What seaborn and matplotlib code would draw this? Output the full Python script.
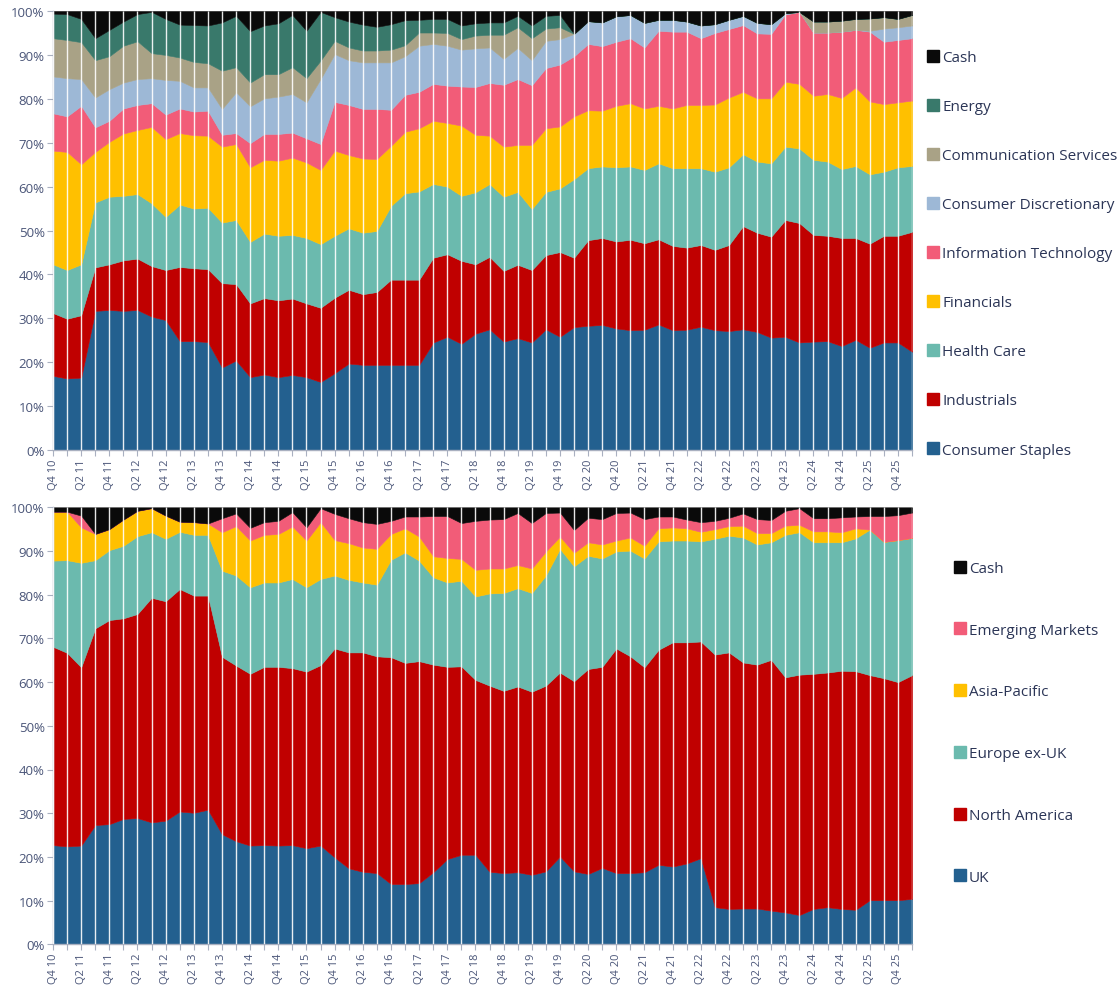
import numpy as np
import matplotlib
matplotlib.use("Agg")
import matplotlib.pyplot as plt
from matplotlib.lines import Line2D
import seaborn as sns

# ---------------- data ----------------
quarters = []
_q, _y = 4, 10
for _ in range(62):
    quarters.append(f"Q{_q} {_y:02d}")
    _q += 1
    if _q > 4:
        _q, _y = 1, _y + 1

# Sector allocation (%), Q4 10 .. Q1 26
consumer_staples = [16.9, 16.3, 16.5, 31.7, 31.9, 31.7, 31.9, 30.4, 29.6, 24.8, 24.8, 24.6, 18.8, 20.4, 16.6, 17.2,
                    16.6, 17.1, 16.6, 15.5, 17.5, 19.7, 19.4, 19.4, 19.4, 19.4, 19.4, 24.5, 25.8, 24.2, 26.5, 27.5,
                    24.7, 25.5, 24.5, 27.5, 25.8, 28.0, 28.3, 28.5, 27.7, 27.3, 27.4, 28.6, 27.3, 27.4, 28.1, 27.3,
                    27.1, 27.5, 26.9, 25.6, 25.8, 24.5, 24.7, 24.8, 23.7, 25.1, 23.3, 24.5, 24.5, 22.4]
industrials = [14.3, 13.6, 14.2, 9.9, 10.4, 11.5, 11.7, 11.5, 11.4, 16.9, 16.6, 16.6, 19.2, 17.4, 16.8, 17.4,
               17.5, 17.4, 16.8, 16.9, 17.2, 16.8, 16.1, 16.6, 19.4, 19.4, 19.4, 19.3, 18.8, 18.9, 15.8, 16.5,
               16.1, 16.7, 16.5, 16.9, 19.3, 15.8, 19.5, 19.8, 19.8, 20.6, 19.7, 19.4, 19.2, 18.7, 18.6, 18.3,
               19.6, 23.5, 22.6, 23.0, 26.6, 27.2, 24.3, 24.0, 24.6, 23.2, 23.7, 24.3, 24.3, 27.3]
health_care = [11.1, 11.1, 11.6, 14.8, 15.4, 14.7, 14.7, 14.3, 12.1, 14.2, 13.6, 14.0, 13.8, 14.6, 14.0, 14.7,
               14.7, 14.5, 14.9, 14.5, 14.1, 14.0, 14.0, 13.9, 16.8, 19.7, 20.1, 16.8, 15.4, 14.8, 16.4, 16.6,
               16.9, 16.6, 13.9, 14.4, 14.5, 17.9, 16.4, 16.3, 16.9, 16.7, 16.7, 17.3, 17.7, 18.1, 17.5, 17.8,
               17.7, 16.4, 16.2, 16.7, 16.7, 17.0, 17.1, 16.9, 15.7, 16.4, 15.8, 14.6, 15.6, 15.0]
financials = [25.9, 26.9, 22.8, 11.5, 12.5, 14.2, 14.6, 17.4, 17.7, 16.3, 16.7, 16.4, 17.3, 17.3, 17.0, 16.8,
              17.1, 17.6, 17.2, 16.9, 19.4, 16.7, 16.9, 16.4, 13.7, 14.0, 14.4, 14.4, 14.5, 16.0, 13.1, 11.0,
              11.4, 10.7, 14.6, 14.5, 14.1, 14.3, 13.2, 12.7, 14.0, 14.4, 14.0, 13.1, 13.6, 14.4, 14.4, 15.3,
              15.9, 14.2, 14.4, 14.8, 14.8, 14.7, 14.6, 15.4, 16.2, 17.9, 16.6, 15.4, 14.8, 14.9]
info_tech = [8.5, 8.1, 13.3, 5.6, 4.8, 5.7, 5.7, 5.4, 5.6, 5.6, 5.4, 5.7, 2.7, 2.5, 5.5, 5.9,
             6.1, 5.7, 5.5, 5.9, 11.1, 11.4, 11.3, 11.4, 8.2, 8.4, 8.3, 8.4, 8.5, 8.9, 10.9, 12.0,
             14.1, 15.0, 13.6, 13.7, 14.1, 13.7, 15.1, 14.7, 14.6, 14.8, 13.9, 17.1, 17.5, 16.7, 15.2, 16.3,
             15.6, 15.2, 14.8, 14.7, 15.3, 16.4, 14.4, 14.0, 15.1, 13.1, 15.9, 14.2, 14.2, 14.2]
consumer_disc = [8.4, 8.7, 6.1, 6.8, 7.2, 5.9, 5.9, 5.7, 7.9, 6.3, 5.5, 5.3, 5.9, 9.3, 8.4, 8.1,
                 8.5, 8.8, 8.2, 14.8, 10.9, 10.2, 10.6, 10.6, 10.8, 8.8, 10.5, 9.1, 9.1, 8.4, 8.8, 8.1,
                 5.9, 7.1, 5.7, 6.2, 5.8, 5.1, 5.2, 5.4, 5.8, 5.3, 5.6, 2.5, 2.7, 2.3, 2.9, 2.0,
                 2.1, 2.1, 2.4, 2.2, 0.3, 0.0, 0.0, 0.0, 0.0, 0.0, 0.2, 3.0, 2.9, 2.9]
comm_services = [8.7, 8.7, 8.4, 8.5, 7.5, 8.4, 8.6, 5.7, 5.7, 5.3, 5.8, 5.5, 8.7, 5.7, 5.4, 5.5,
                 5.1, 6.1, 5.5, 4.2, 3.0, 2.9, 2.7, 2.7, 2.9, 2.5, 3.0, 2.6, 2.9, 2.4, 2.9, 2.9,
                 5.5, 4.7, 5.0, 2.8, 2.7, 0.0, 0.0, 0.0, 0.0, 0.0, 0.0, 0.0, 0.0, 0.0, 0.0, 0.0,
                 0.0, 0.0, 0.0, 0.0, 0.0, 0.0, 2.5, 2.5, 2.5, 2.5, 2.8, 2.6, 1.9, 2.4]
energy = [5.6, 5.9, 5.3, 5.0, 6.0, 5.5, 6.2, 9.4, 8.2, 7.5, 8.4, 8.6, 11.0, 11.7, 11.7, 11.1,
          11.6, 11.9, 10.8, 11.1, 5.4, 5.9, 5.9, 5.4, 5.8, 5.7, 2.9, 3.1, 3.2, 3.1, 2.8, 2.8,
          2.8, 2.6, 2.9, 2.9, 2.8, 0.0, 0.0, 0.0, 0.0, 0.0, 0.0, 0.0, 0.0, 0.0, 0.0, 0.0,
          0.0, 0.0, 0.0, 0.0, 0.0, 0.0, 0.0, 0.0, 0.0, 0.0, 0.0, 0.0, 0.0, 0.0]
cash_sector = [0.6, 0.7, 1.8, 6.2, 4.3, 2.4, 0.7, 0.2, 1.8, 3.1, 3.2, 3.3, 2.6, 1.1, 4.6, 3.3,
               2.8, 0.9, 4.5, 0.2, 1.4, 2.4, 3.1, 3.6, 3.0, 2.1, 2.0, 1.8, 1.8, 3.3, 2.8, 2.6,
               2.6, 1.1, 3.3, 1.1, 0.9, 5.2, 2.3, 2.6, 1.2, 0.9, 2.7, 2.0, 2.0, 2.4, 3.3, 3.0,
               2.0, 1.1, 2.7, 3.0, 0.5, 0.2, 2.4, 2.4, 2.2, 1.8, 1.7, 1.4, 1.8, 0.9]

# Regional allocation (%)
uk = [22.7, 22.4, 22.6, 27.3, 27.5, 28.7, 28.9, 27.9, 28.3, 30.4, 30.1, 30.8, 25.2, 23.6, 22.6, 22.7,
      22.6, 22.7, 22.0, 22.6, 19.9, 17.4, 16.6, 16.3, 13.8, 13.8, 14.0, 16.5, 19.5, 20.5, 20.5, 16.6,
      16.3, 16.5, 15.9, 16.7, 20.1, 16.7, 16.1, 17.5, 16.3, 16.3, 16.5, 18.2, 17.8, 18.5, 19.7, 8.5,
      8.1, 8.2, 8.2, 7.7, 7.3, 6.7, 8.1, 8.5, 8.1, 7.9, 10.1, 10.1, 10.1, 10.4]
north_america = [45.4, 44.3, 40.8, 45.0, 46.7, 45.9, 46.7, 51.4, 50.2, 50.9, 49.7, 49.0, 40.6, 40.2, 39.3, 40.8,
                 40.9, 40.5, 40.4, 41.3, 47.8, 49.4, 50.2, 49.6, 51.9, 50.6, 50.8, 47.5, 44.0, 43.1, 40.0, 42.6,
                 41.7, 42.5, 41.9, 42.5, 42.1, 43.5, 46.9, 46.0, 51.4, 49.6, 46.9, 49.2, 51.3, 50.6, 49.6, 57.8,
                 58.7, 56.3, 55.8, 57.4, 53.8, 55.0, 53.8, 53.7, 54.5, 54.6, 51.5, 50.8, 49.9, 51.2]
europe_ex_uk = [19.7, 21.2, 23.9, 15.6, 16.0, 16.6, 17.8, 15.0, 14.3, 13.1, 13.9, 13.9, 19.7, 20.6, 19.8, 19.3,
                19.3, 20.4, 19.3, 19.7, 16.7, 16.6, 16.0, 16.4, 22.3, 25.3, 23.0, 20.0, 19.3, 19.6, 19.1, 21.1,
                22.4, 22.5, 22.6, 25.2, 28.3, 26.3, 25.9, 24.8, 22.2, 24.2, 24.9, 24.8, 23.3, 23.3, 22.9, 26.5,
                26.7, 28.6, 27.5, 26.9, 32.6, 32.6, 30.1, 29.8, 29.4, 30.4, 33.3, 31.2, 32.5, 31.4]
asia_pacific = [11.2, 11.1, 8.1, 6.0, 4.8, 6.0, 5.8, 5.5, 5.3, 2.3, 2.9, 2.6, 8.8, 11.3, 10.7, 10.9,
                11.1, 12.0, 10.7, 13.0, 8.1, 8.4, 8.0, 8.2, 5.9, 5.5, 5.5, 4.8, 5.6, 5.0, 6.1, 5.7,
                5.6, 5.3, 5.6, 5.5, 2.8, 3.1, 3.1, 3.2, 2.5, 3.0, 2.9, 3.0, 3.0, 2.8, 2.2, 2.2,
                2.2, 2.7, 2.6, 2.1, 2.1, 1.7, 2.5, 2.5, 2.3, 2.3, 0.0, 0.0, 0.0, 0.0]
emerging_markets = [0.0, 0.0, 2.7, 0.0, 0.0, 0.0, 0.0, 0.0, 0.0, 0.0, 0.0, 0.0, 3.2, 2.9, 2.9, 2.9,
                    3.0, 3.3, 3.0, 3.2, 6.0, 5.7, 5.8, 5.7, 3.0, 2.7, 4.6, 9.2, 9.6, 8.2, 11.2, 11.2,
                    11.3, 11.9, 10.4, 8.8, 5.5, 5.2, 5.6, 5.8, 6.3, 5.7, 6.1, 2.7, 2.5, 2.0, 2.2, 1.9,
                    1.9, 2.8, 3.2, 3.0, 3.4, 3.8, 3.0, 3.0, 3.4, 2.7, 3.1, 5.9, 5.7, 5.8]
cash_region = [1.0, 1.0, 1.9, 6.1, 5.0, 2.8, 0.8, 0.2, 1.9, 3.3, 3.4, 3.7, 2.5, 1.4, 4.7, 3.4,
               3.1, 1.1, 4.6, 0.2, 1.5, 2.5, 3.4, 3.8, 3.1, 2.1, 2.1, 2.0, 2.0, 3.6, 3.1, 2.8,
               2.7, 1.3, 3.6, 1.3, 1.2, 5.2, 2.4, 2.7, 1.3, 1.2, 2.7, 2.1, 2.1, 2.8, 3.4, 3.1,
               2.4, 1.4, 2.7, 2.9, 0.8, 0.2, 2.5, 2.5, 2.3, 2.1, 2.0, 2.0, 1.8, 1.2]

sector_labels = ["Consumer Staples", "Industrials", "Health Care", "Financials",
                 "Information Technology", "Consumer Discretionary", "Communication Services",
                 "Energy", "Cash"]
region_labels = ["UK", "North America", "Europe ex-UK", "Asia-Pacific", "Emerging Markets", "Cash"]

# ---------------- style ----------------
sns.set_theme(style="white")
plt.rcParams['font.family'] = ['Open Sans', 'DejaVu Sans']

C_BLUE, C_RED, C_TEAL, C_YEL = "#23608F", "#C00000", "#6BBAAE", "#FFC000"
C_PINK, C_LBLUE, C_TAN, C_GREEN, C_BLACK = "#F25C78", "#9DB8D6", "#A9A286", "#39796B", "#0A0A0A"
sector_colors = sns.color_palette([C_BLUE, C_RED, C_TEAL, C_YEL, C_PINK, C_LBLUE, C_TAN, C_GREEN, C_BLACK])
region_colors = sns.color_palette([C_BLUE, C_RED, C_TEAL, C_YEL, C_PINK, C_BLACK])

TXT = "#2B3556"
TICK = "#4A5578"
SPINE = "#A9B0C0"

fig = plt.figure(figsize=(11.2, 9.87), dpi=100)
W, H = 1120, 987
ax1 = fig.add_axes([53 / W, 1 - 451 / H, 859 / W, 439 / H])
ax2 = fig.add_axes([53 / W, 1 - 945.3 / H, 859 / W, 437 / H])

x = np.arange(len(quarters))


def draw(ax, series, colors, labels):
    ax.stackplot(x, *series, colors=colors, labels=labels, linewidth=0.4, edgecolor="face")
    ax.vlines(x, 0, 100, colors="white", linewidth=1.0, alpha=0.9, zorder=3)
    ax.set_xlim(0, len(x) - 1)
    ax.set_ylim(0, 100)
    ax.set_yticks(np.arange(0, 101, 10))
    ax.set_yticklabels([f"{v}%" for v in range(0, 101, 10)], fontsize=9.5, color=TICK)
    ax.set_xticks(x)
    ax.set_xticklabels([q if i % 2 == 0 else "" for i, q in enumerate(quarters)],
                       rotation=90, fontsize=8, color=TICK)
    ax.tick_params(axis="both", which="both", length=4, width=0.8, color=SPINE, pad=2,
                   bottom=True, left=True)
    for s in ["top", "right"]:
        ax.spines[s].set_visible(False)
    for s in ["left", "bottom"]:
        ax.spines[s].set_color(SPINE)
        ax.spines[s].set_linewidth(1.0)
    ax.grid(False)


draw(ax1, [consumer_staples, industrials, health_care, financials, info_tech,
           consumer_disc, comm_services, energy, cash_sector], sector_colors, sector_labels)
draw(ax2, [uk, north_america, europe_ex_uk, asia_pacific, emerging_markets, cash_region],
     region_colors, region_labels)


def legend(ax, colors, labels, anchor, spacing):
    handles = [Line2D([], [], marker="s", linestyle="none", markersize=8,
                      markerfacecolor=c, markeredgecolor=c) for c in colors]
    leg = ax.legend(handles[::-1], labels[::-1], loc="upper left",
                    bbox_to_anchor=anchor, bbox_transform=fig.transFigure,
                    frameon=False, fontsize=11, labelspacing=spacing,
                    handletextpad=0.15, handlelength=0.9, borderpad=0, borderaxespad=0)
    for t in leg.get_texts():
        t.set_color(TXT)


legend(ax1, list(sector_colors), sector_labels, (926 / W, 1 - 51 / H), 2.23)
legend(ax2, list(region_colors), region_labels, (953 / W, 1 - 562 / H), 3.06)

fig.savefig("out.png", dpi=100)
